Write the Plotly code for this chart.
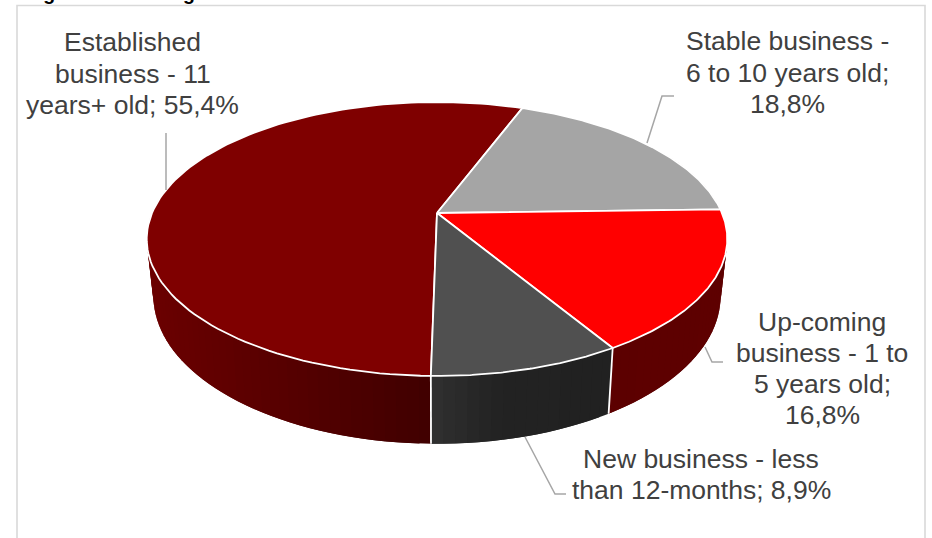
import math
import numpy as np
import plotly.graph_objects as go

# ---- data (clockwise order, starting at the front of the pie)
categories = ["Established business - 11 years+ old", "Stable business - 6 to 10 years old",
              "Up-coming business - 1 to 5 years old", "New business - less than 12-months"]
values = [55.4, 18.8, 16.8, 8.9]
top_colors = ["#7f0000", "#a5a5a5", "#ff0000", "#505050"]

# wrapped label lines; the last fragment gets "; value%" appended from values
label_wraps = [["Established", "business - 11", "years+ old"],
               ["Stable business -", "6 to 10 years old", ""],
               ["Up-coming", "business - 1 to", "5 years old", ""],
               ["New business - less", "than 12-months"]]
label_x = [132.5, 787.5, 822, 701]
label_y = [[42, 73.5, 105], [41, 73, 104], [322, 353, 384, 415], [459, 490]]
leaders = [([166, 166], [190, 133]),
           ([647, 662, 674], [143, 96, 96]),
           ([705, 712, 723], [347, 362, 362]),
           ([525, 555, 566], [437, 494, 494])]
# wall shade stops: screen x and colour per visible wall
wall_stops = [([147, 431], [(0x6c, 0, 0), (0x40, 0, 0)]),
              None,
              ([608, 727], [(0x5c, 0, 0), (0x5e, 0, 0)]),
              ([431, 500, 608], [(0x30, 0x30, 0x30), (0x22, 0x22, 0x22), (0x21, 0x21, 0x21)])]
title_text = "Figure 10: Firm age"

# ---- perspective model of the disk
CX, CY = 437.0, 213.0
A, B, K = 132.0, 285.0, 0.19
DEPTH, BOTTOM_SCALE = 55.0, 0.977
START_DEG = 181.0


def top_pt(t):
    X, Y = np.sin(t), np.cos(t)
    w = 1 + K * Y
    return CX + B * X / w, CY - A * Y / w


def bottom_pt(t):
    X, Y = np.sin(t), np.cos(t)
    w = 1 + K * Y
    return CX + BOTTOM_SCALE * B * X / w, CY + (DEPTH - A * Y) / w


total = sum(values)
edges = [math.radians(START_DEG)]
for v in values:
    edges.append(edges[-1] + math.radians(v / total * 360))

fig = go.Figure()


def wall_color(i, x):
    xs, cols = wall_stops[i]
    return "rgb(%d,%d,%d)" % tuple(int(round(np.interp(x, xs, [c[j] for c in cols]))) for j in range(3))


# walls: overlapping quads between the top and bottom rim, only the arcs that can show at the front
wall_spans = {0: (edges[0], math.radians(300)),
              2: (math.radians(60 + 360), edges[3]),
              3: (edges[3], edges[4])}
for i, (a, b) in wall_spans.items():
    n = int(max(12, abs(b - a) * 30))
    ts = np.linspace(a, b, n + 1)
    step = ts[1] - ts[0]
    for k, t0 in enumerate(ts[:-1]):
        # each quad runs a little under its neighbour so no seams show
        t_end = min(t0 + step * 2.0, b)
        sub = np.linspace(t0, t_end, 5)
        tx, ty = top_pt(sub)
        bx, by = bottom_pt(sub)
        xs = list(tx) + list(bx[::-1]) + [tx[0]]
        ys = list(ty) + list(by[::-1]) + [ty[0]]
        col = wall_color(i, float(bottom_pt(t0 + step / 2)[0]))
        fig.add_trace(go.Scatter(x=xs, y=ys, mode="lines", fill="toself", fillcolor=col,
                                 line=dict(color=col, width=0), hoverinfo="skip", showlegend=False))

# wall dividers
for t in (edges[3], edges[0]):
    tx, ty = top_pt(t)
    bx, by = bottom_pt(t)
    fig.add_trace(go.Scatter(x=[tx, bx], y=[ty, by], mode="lines", line=dict(color="white", width=1.8),
                             hoverinfo="skip", showlegend=False))

# top face
for i, col in enumerate(top_colors):
    ts = np.linspace(edges[i], edges[i + 1], 120)
    x, y = top_pt(ts)
    xs = [CX] + list(x) + [CX]
    ys = [CY] + list(y) + [CY]
    fig.add_trace(go.Scatter(x=xs, y=ys, mode="lines", fill="toself", fillcolor=col,
                             line=dict(color="white", width=1.8), name=categories[i],
                             hoverinfo="skip", showlegend=False))

# leader lines
for lx, ly in leaders:
    fig.add_trace(go.Scatter(x=lx, y=ly, mode="lines", line=dict(color="#a6a6a6", width=1.5),
                             hoverinfo="skip", showlegend=False))

annotations = []
for i, lines in enumerate(label_wraps):
    pct = f"{values[i]:.1f}".replace(".", ",") + "%"
    lines = list(lines)
    if lines[-1] == "":
        lines[-1] = pct
        lines[-2] = lines[-2] + ";"
    else:
        lines[-1] = lines[-1] + "; " + pct
    for line, y in zip(lines, label_y[i]):
        annotations.append(dict(x=label_x[i], y=y, xref="x", yref="y", text=line, showarrow=False,
                                xanchor="center", yanchor="middle", borderpad=0,
                                font=dict(family="Liberation Sans", size=26.5, color="#404040")))

annotations.append(dict(x=25, y=5, xref="x", yref="y", text="<b>" + title_text + "</b>", showarrow=False,
                        xanchor="left", yanchor="bottom", borderpad=0,
                        font=dict(family="Liberation Sans", size=19.5, color="black")))

border = dict(type="path", path="M 17 538 L 17 5.5 L 925 5.5 L 925 538", xref="x", yref="y",
              line=dict(color="#d9d9d9", width=1.6), layer="below")

fig.update_layout(
    width=932, height=538, margin=dict(l=0, r=0, t=0, b=0),
    paper_bgcolor="white", plot_bgcolor="white", showlegend=False,
    xaxis=dict(range=[0, 932], visible=False, fixedrange=True),
    yaxis=dict(range=[538, 0], visible=False, fixedrange=True),
    annotations=annotations, shapes=[border],
)

fig.write_html("out.html", config={"displayModeBar": False},
               post_script="document.body.style.margin='0';document.body.style.overflow='hidden';")
